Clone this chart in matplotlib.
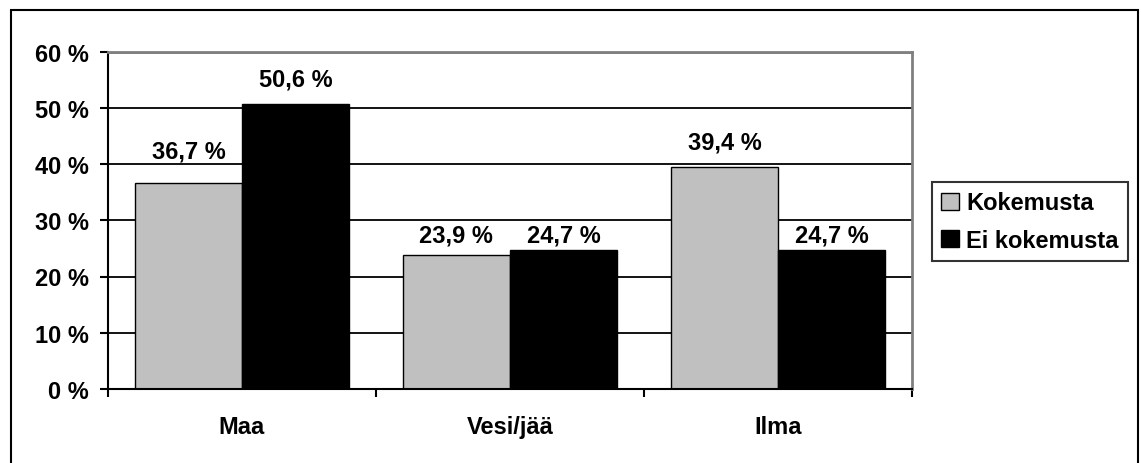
import matplotlib
matplotlib.use("Agg")
import matplotlib.pyplot as plt
from matplotlib.patches import Rectangle, Patch
import numpy as np

categories = ["Maa", "Vesi/jää", "Ilma"]
series_names = ["Kokemusta", "Ei kokemusta"]
kokemusta = [36.7, 23.9, 39.4]
ei_kokemusta = [50.6, 24.7, 24.7]
y_ticks = [0, 10, 20, 30, 40, 50, 60]

# style: vertical gap (px) between bar top and label baseline
gap_kok = [25, 13, 19]
gap_ei = [19, 9, 9]

DPI = 100
W, H = 1141, 464
plt.rcParams['font.family'] = ['Liberation Sans', 'DejaVu Sans']
plt.rcParams['font.weight'] = 'bold'
FS = 17

fig = plt.figure(figsize=(W / DPI, H / DPI), dpi=DPI)
ax = fig.add_axes([108 / W, 1 - 390 / H, (912 - 108) / W, (390 - 52.5) / H])

x = np.arange(len(categories))
bw = 0.4
b1 = ax.bar(x - bw / 2, kokemusta, bw, color="#C0C0C0", edgecolor="black", linewidth=1.0, zorder=3)
b2 = ax.bar(x + bw / 2, ei_kokemusta, bw, color="black", edgecolor="black", linewidth=1.0, zorder=3)

def fmt(v):
    return f"{v:.1f}".replace(".", ",") + " %"

for bars, vals, gaps in ((b1, kokemusta, gap_kok), (b2, ei_kokemusta, gap_ei)):
    for r, v, g in zip(bars, vals, gaps):
        ax.annotate(fmt(v), (r.get_x() + r.get_width() / 2, v), xytext=(0, g * 72 / DPI),
                    textcoords="offset points", ha="center", va="baseline",
                    fontsize=FS, fontweight="bold", zorder=5)

ax.set_xlim(-0.5, 2.5)
ax.set_ylim(0, 60)
ax.set_yticks(y_ticks)
ax.set_yticklabels([f"{t} %" for t in y_ticks], fontsize=FS, fontweight="bold")
ax.set_xticks(x)
ax.set_xticklabels(categories, fontsize=FS, fontweight="bold")
ax.set_xticks([-0.5, 0.5, 1.5, 2.5], minor=True)
ax.tick_params(axis="x", which="major", length=0, pad=19)
ax.tick_params(axis="x", which="minor", length=6, width=1.5, direction="out", color="black")
ax.tick_params(axis="y", length=6, width=1.5, direction="out", pad=8, color="black")

for t in y_ticks[1:-1]:
    ax.axhline(t, color="black", linewidth=1.3, zorder=1)
ax.axhline(60, color="#808080", linewidth=2, zorder=1)

ax.spines["left"].set_color("black")
ax.spines["left"].set_linewidth(1.5)
ax.spines["bottom"].set_color("black")
ax.spines["bottom"].set_linewidth(1.5)
ax.spines["bottom"].set_zorder(6)
ax.spines["right"].set_color("#808080")
ax.spines["right"].set_linewidth(2)
ax.spines["top"].set_color("#808080")
ax.spines["top"].set_linewidth(2)

handles = [Patch(facecolor="#C0C0C0", edgecolor="black", linewidth=1.0),
           Patch(facecolor="black", edgecolor="black", linewidth=1.0)]
leg = fig.legend(handles, series_names, loc="upper left",
                 bbox_to_anchor=(932 / W, 1 - 183 / H),
                 fancybox=False, frameon=True, edgecolor="black",
                 prop={"size": FS, "weight": "bold"},
                 handlelength=0.75, handleheight=0.75, handletextpad=0.3,
                 borderpad=0.4, labelspacing=0.6, borderaxespad=0)
leg.get_frame().set_linewidth(1.5)

# outer chart border
fig.add_artist(Rectangle((10.5 / W, -0.05), (1138 - 10.5) / W, 1.05 - 10.5 / H,
                         transform=fig.transFigure, fill=False, edgecolor="black",
                         linewidth=1.5, clip_on=False))

fig.savefig("out.png", dpi=DPI)
